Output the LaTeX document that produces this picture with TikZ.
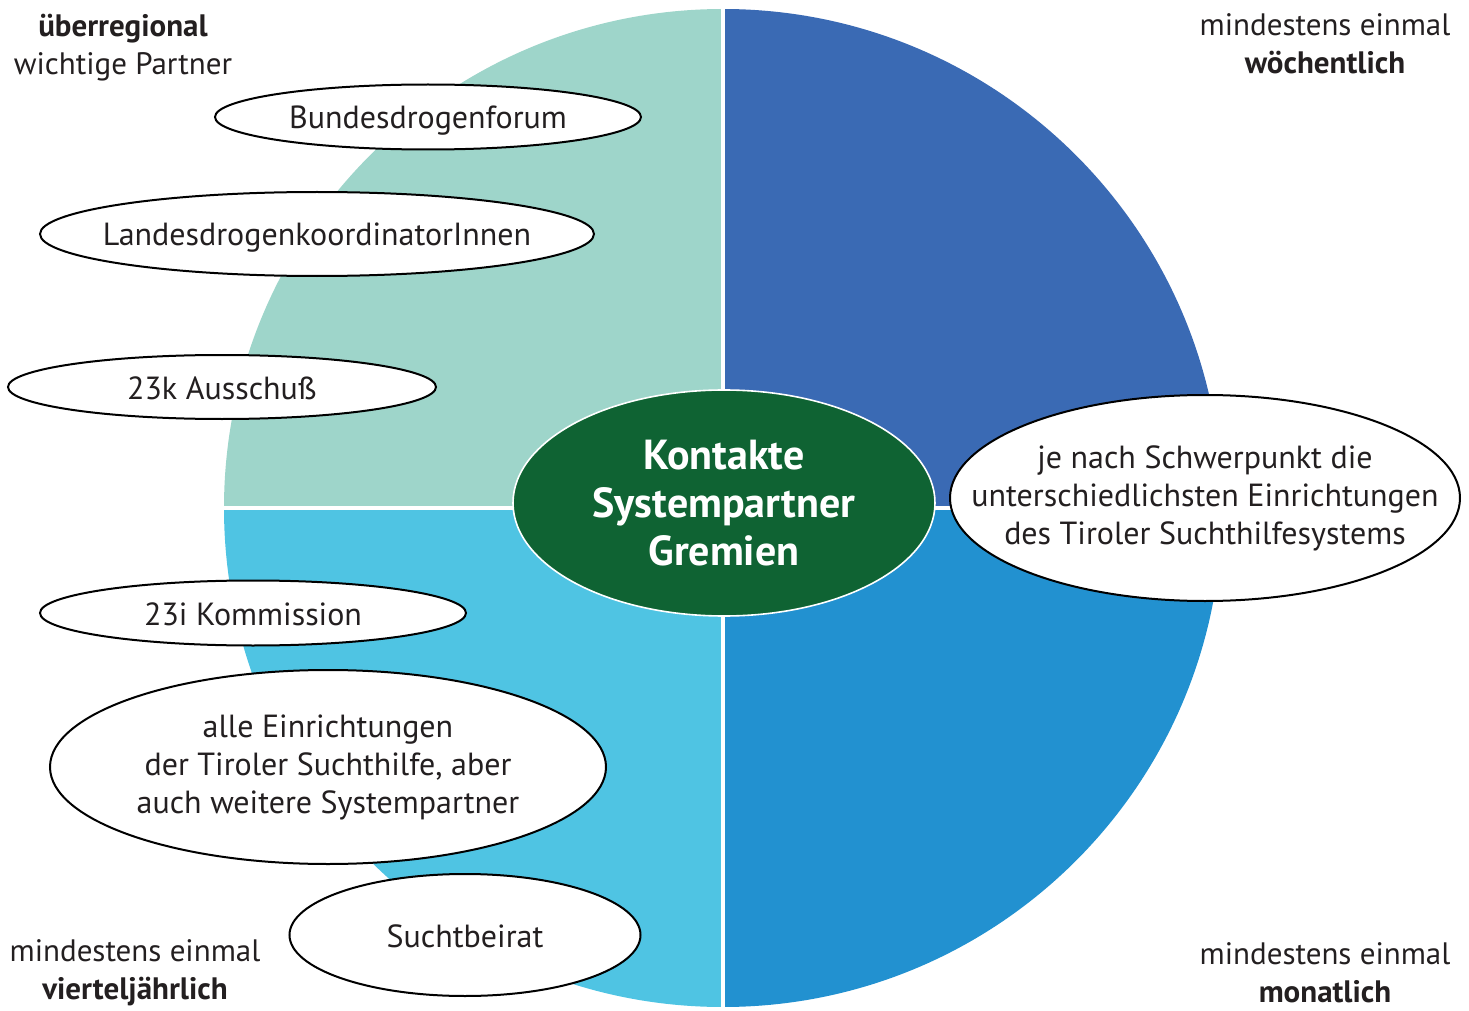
\documentclass[tikz,border=0pt]{standalone}
\usepackage{fontspec}
\setmainfont{PT Sans}
\usepackage{xcolor}
\usetikzlibrary{shapes.geometric}
\definecolor{viertelTL}{HTML}{9ED5CA}
\definecolor{viertelTR}{HTML}{3A6AB4}
\definecolor{viertelBR}{HTML}{2291D0}
\definecolor{viertelBL}{HTML}{4FC4E3}
\definecolor{gruen}{HTML}{0F6333}
\definecolor{schrift}{HTML}{231F20}

\begin{document}
\begin{tikzpicture}[x=0.5pt,y=-0.5pt,
    partner/.style={ellipse,draw=black,line width=1pt,fill=white,inner xsep=-60pt,inner ysep=-25pt,align=center,
        text=schrift,font=\fontsize{16}{19}\selectfont},
    einzeilig/.style={partner,text height=15.5pt,text depth=3.5pt},
    zentrum/.style={ellipse,draw=white,line width=0.8pt,fill=gruen,inner xsep=-60pt,inner ysep=-25pt,align=center,
        text=white,font=\bfseries\fontsize{21}{24}\selectfont},
    ecke/.style={align=center,text=schrift,inner sep=0pt,font=\fontsize{15.5}{19}\selectfont}]
    \useasboundingbox (0,0) rectangle (1469,1011);
    \pgfmathsetmacro{\radio}{499}

    % quarters of the circle
    \fill[viertelTL] (723,508) -- (224,508) arc[start angle=180,end angle=270,radius=\radio] -- cycle;
    \fill[viertelTR] (723,508) -- (723,9) arc[start angle=270,end angle=360,radius=\radio] -- cycle;
    \fill[viertelBR] (723,508) -- (1222,508) arc[start angle=0,end angle=90,radius=\radio] -- cycle;
    \fill[viertelBL] (723,508) -- (723,1007) arc[start angle=90,end angle=180,radius=\radio] -- cycle;
    % white cross
    \draw[white,line width=1.6pt] (723,0) -- (723,1011);
    \draw[white,line width=1.6pt] (200,508) -- (1240,508);

    % centre
    \node[zentrum,minimum width=211pt,minimum height=113pt] (hub) at (724,503) {Kontakte\\Systempartner\\Gremien};

    % partners
    \node[einzeilig,minimum width=213pt,minimum height=32.5pt] (forum) at (428,117) {Bundesdrogenforum};
    \node[einzeilig,minimum width=277pt,minimum height=42pt] (landes) at (317,234) {LandesdrogenkoordinatorInnen};
    \node[einzeilig,minimum width=214pt,minimum height=32pt] (ausschuss) at (222,387) {23k Ausschuß};
    \node[einzeilig,minimum width=213pt,minimum height=32.5pt] (kommission) at (253,613) {23i Kommission};
    \node[partner,minimum width=278pt,minimum height=97pt] (alle) at (328,767) {alle Einrichtungen\\der Tiroler Suchthilfe, aber\\auch weitere Systempartner};
    \node[einzeilig,minimum width=175.5pt,minimum height=61pt] (beirat) at (465,935) {Suchtbeirat};
    \node[partner,minimum width=255pt,minimum height=103pt] (schwerpunkt) at (1205,498) {je nach Schwerpunkt die\\unterschiedlichsten Einrichtungen\\des Tiroler Suchthilfesystems};

    % corner labels
    \node[ecke] (obenlinks) at (123,48) {\textbf{überregional}\\wichtige Partner};
    \node[ecke] (obenrechts) at (1325,44) {mindestens einmal\\\textbf{wöchentlich}};
    \node[ecke] (untenlinks) at (135,973) {mindestens einmal\\\textbf{vierteljährlich}};
    \node[ecke] (untenrechts) at (1325,973) {mindestens einmal\\\textbf{monatlich}};
\end{tikzpicture}
\end{document}
